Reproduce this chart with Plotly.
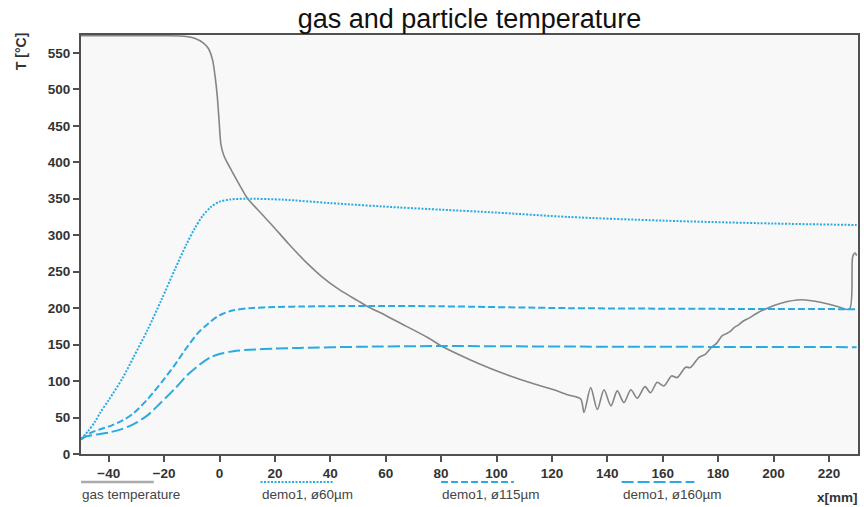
import plotly.graph_objects as go

# ---------------- data ----------------
series_names = ["gas temperature", "demo1, ø60µm", "demo1, ø115µm", "demo1, ø160µm"]

gas_x = [-50, -20, -12, -9, -6, -4, -2.5, -1.5, -0.8, -0.2, 0.5, 1.5, 3, 5, 7.5, 10, 15,
         19.4, 25, 31.5, 37, 43.4, 50, 53.6, 60, 67.5, 75, 80.6, 90, 97.4, 105, 112, 119, 126,
         130.4, 131.6, 134, 136.4, 138.8, 141.3, 143.6, 146, 148.5, 150.8, 153.6, 155.6, 158,
         160.4, 163.2, 165.2, 168.3, 170, 173, 175.5, 177.8, 179.5, 181.4, 183, 184.4, 186,
         187.4, 189, 191, 194, 197, 203, 210, 217.4, 223.4, 227.4, 228.6, 229.5, 230]
gas_y = [573.5, 573.5, 572.5, 570, 564, 556, 540, 515, 490, 460, 425, 410, 398, 384, 367, 351, 330,
         312, 288, 262, 243, 225, 210, 202, 190, 175, 160, 147, 130, 118, 107, 98, 90, 81,
         75.5, 57, 91, 61, 88, 66, 86.5, 70.5, 88, 76.4, 92.4, 84, 98.4,
         93.3, 107, 104.8, 119, 118.5, 132, 137, 147, 152, 162, 165, 168, 174,
         177, 182, 186, 193, 198.6, 207, 211.4, 207.7, 202, 198.6, 270.8, 275.5, 272]

p60_x = [-50, -47.5, -45, -43, -40, -35, -31, -26, -21, -16, -12, -9, -6, -3, 0, 4, 10,
         23, 40, 65, 80, 100, 126, 160, 200, 230]
p60_y = [21, 31, 44, 57, 74, 104, 133, 170, 211, 254, 287, 309, 327, 339, 346, 349, 350,
         348.7, 344, 338, 335, 331, 325, 320, 316, 314]

p115_x = [-50, -48.5, -46, -43, -39, -35, -31, -26, -21, -16, -12, -8, -4, -1, 1, 5, 11,
          20, 30, 55, 80, 126, 180, 230]
p115_y = [20, 25, 30, 34, 39, 46, 56, 75, 98, 123, 145, 165, 179, 188, 192, 197, 200,
          201.5, 202.3, 203, 202.5, 200, 199, 198.6]

p160_x = [-50, -47.7, -43, -39.3, -35, -31, -26, -21.3, -16, -11.7, -7, -3, 0, 5, 11, 20, 29,
          50, 79, 126, 230]
p160_y = [20, 24.5, 27.5, 30, 34.5, 41, 53, 70, 90, 108, 123, 133, 137, 141, 143, 144.5, 145.5,
          147, 148, 147.3, 146.5]

x_ticks = list(range(-40, 221, 20))
y_ticks = list(range(0, 551, 50))

# ---------------- styles ----------------
BLUE = "#29abe2"
GRAY = "#858585"
FONT = "Liberation Sans, Arial"
styles = [
    dict(color=GRAY, width=1.6, dash="solid"),
    dict(color=BLUE, width=2, dash="2px,1.5px"),
    dict(color=BLUE, width=2, dash="7px,3px"),
    dict(color=BLUE, width=2, dash="12px,4px"),
]
legend_line_colors = ["#aaaaaa", BLUE, BLUE, BLUE]

fig = go.Figure()
for name, xs, ys, st in zip(series_names, [gas_x, p60_x, p115_x, p160_x],
                            [gas_y, p60_y, p115_y, p160_y], styles):
    fig.add_trace(go.Scatter(x=xs, y=ys, mode="lines", name=name,
                             line=dict(color=st["color"], width=st["width"], dash=st["dash"],
                                       shape="spline", smoothing=0.8),
                             showlegend=False))

# custom legend (line above text), in paper coordinates
W, H = 864, 507
L, R, T, B = 81, 860, 35, 454
pw, ph = R - L, B - T
def px2paper_x(px):
    return (px - L) / pw
def px2paper_y(py):
    return (B - py) / ph

leg_starts = [81, 261, 442, 623]
leg_len = 73
for name, x0, st, lc in zip(series_names, leg_starts, styles, legend_line_colors):
    fig.add_shape(type="line", xref="paper", yref="paper",
                  x0=px2paper_x(x0), x1=px2paper_x(x0 + leg_len),
                  y0=px2paper_y(482), y1=px2paper_y(482),
                  line=dict(color=lc, width=2.5 if st["dash"] == "solid" else 2,
                            dash=st["dash"]))
    fig.add_annotation(text=name, xref="paper", yref="paper",
                       x=px2paper_x(x0 - 1), y=px2paper_y(494), xanchor="left", yanchor="middle",
                       showarrow=False, font=dict(family=FONT, size=13.5, color="#444444"))

fig.add_annotation(text="<b>x[mm]</b>", xref="paper", yref="paper",
                   x=px2paper_x(862), y=px2paper_y(497), xanchor="right", yanchor="middle",
                   showarrow=False, font=dict(family=FONT, size=13.5, color="#333333"))
fig.add_annotation(text="<b>T [°C]</b>", xref="paper", yref="paper",
                   x=px2paper_x(21), y=px2paper_y(52), xanchor="center", yanchor="middle",
                   textangle=-90, showarrow=False,
                   font=dict(family=FONT, size=14, color="#333333"))

axis_common = dict(showgrid=False, zeroline=False, showline=True, linecolor="#505050",
                   linewidth=2, mirror=True, ticks="outside", ticklen=6, tickwidth=1.5,
                   tickcolor="#505050",
                   tickfont=dict(family=FONT, size=13.5, color="#333333", weight="bold"))

fig.update_layout(
    width=W, height=H,
    margin=dict(l=L, r=W - R, t=T, b=H - B),
    paper_bgcolor="white",
    plot_bgcolor="#f8f8f8",
    title=dict(text="gas and particle temperature", x=px2paper_x((L + R) / 2), xref="paper",
               xanchor="center", y=1 - 19 / H, yref="container", yanchor="middle",
               font=dict(family=FONT, size=27, color="#111111")),
    xaxis=dict(range=[-50, 230.5], tickvals=x_ticks, **axis_common),
    yaxis=dict(range=[0, 574.5], tickvals=y_ticks, **axis_common),
)

fig.write_html("out.html")
